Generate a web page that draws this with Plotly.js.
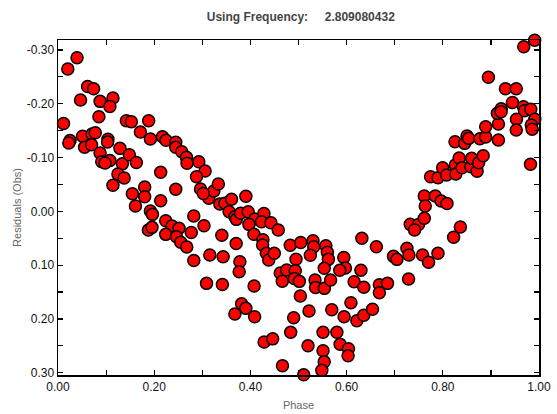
<!DOCTYPE html>
<html>
<head>
<meta charset="utf-8">
<script src="https://cdn.plot.ly/plotly-3.0.1.min.js"></script>
<style>html,body{margin:0;padding:0;background:#fff;}#chart{width:557px;height:414px;}</style>
</head>
<body>
<div id="chart"></div>
<script>
const phase = [
0.0115,0.0204,0.0396,0.0469,0.0615,0.0740,0.0875,0.1142,0.1079,0.0850,
0.0250,0.0225,0.0510,0.0552,0.0708,0.0775,0.0698,0.1038,0.1031,0.1288,
0.0875,0.0910,0.1079,0.0979,0.1338,0.1483,0.1629,0.1246,0.1375,0.1142,
0.1546,0.1802,0.1802,0.1610,0.1421,0.1525,0.1885,0.1713,0.1921,0.2135,
0.2135,0.2448,0.1921,0.1963,
0.2171,0.2246,0.2448,0.2448,0.2573,0.2671,0.2683,0.2927,0.3058,0.2879,
0.2963,0.3135,0.3240,0.3333,0.3021,0.3365,0.3469,0.3558,0.3608,0.3677,
0.3708,0.3796,0.3906,0.3954,0.4094,0.3969,0.4281,0.4233,0.4427,0.4579,
0.4073,0.4260,0.4254,
0.2240,0.2371,0.2517,0.2240,0.2463,0.2552,0.2677,0.2771,0.2823,0.3035,
0.2823,0.3156,0.3088,0.3406,0.3433,0.3417,0.1879,0.1954,0.3704,0.3781,
0.3767,0.4077,0.3817,0.3906,0.3677,0.4088,0.4285,0.4463,0.4667,0.4333,
0.4381,0.4496,
0.4829,0.5046,0.5302,0.5317,0.5246,0.5569,0.5600,0.5621,0.4948,0.4621,
0.4754,0.4933,0.4663,0.4910,0.5017,0.5535,0.5344,0.5354,0.5538,0.5667,
0.5942,0.5975,0.5858,0.6317,0.6619,0.6298,0.6156,0.6358,0.6681,0.6681,
0.6850,0.6975,0.7046,0.5038,0.4900,0.5219,0.5692,0.6090,0.5948,0.6213,
0.6358,0.6538,0.4838,0.5198,0.5510,0.5798,0.5865,0.6038,0.6031,0.5510,
0.5535,0.5485,0.5108,
0.7254,0.7296,0.7579,0.7704,0.7900,0.7288,0.7323,0.7496,0.7413,0.7615,
0.8225,0.8365,0.7615,0.7844,0.7965,0.8088,0.7635,0.7746,0.7900,0.7996,
0.8079,0.8260,0.8271,0.8340,0.8400,0.8583,0.8600,0.8713,0.8746,0.8840,
0.8254,0.8454,0.8504,0.8538,0.8771,0.8892,0.8892,0.9156,0.9156,0.9135,
0.9215,0.9213,0.8948,0.9302,0.9527,0.9448,0.9677,0.9698,0.9829,0.9913,
0.9531,0.9527,0.9840,0.9858,0.9823,0.9683,0.9910
];
const residual = [
-0.1633,-0.2646,-0.2856,-0.2070,-0.2321,-0.2280,-0.2045,-0.2107,-0.1949,-0.1759,
-0.1316,-0.1270,-0.1395,-0.1190,-0.1437,-0.1462,-0.1238,-0.1341,-0.1289,-0.1171,
-0.1084,-0.0922,-0.0945,-0.0898,-0.0883,-0.1052,-0.0907,-0.0694,-0.0619,-0.0485,
-0.0327,-0.0452,-0.0271,-0.0099,-0.1685,-0.1666,-0.1685,-0.1475,-0.1344,-0.0725,
-0.0197,-0.0409,-0.0006,0.0056,
-0.1387,-0.1320,-0.1283,-0.1190,-0.1108,-0.1004,-0.0893,-0.0922,-0.0749,-0.0643,
-0.0415,-0.0242,-0.0377,-0.0508,-0.0331,-0.0136,-0.0149,0.0007,-0.0223,0.0100,
0.0149,0.0037,-0.0279,0.0007,0.0143,0.0242,0.0041,0.0193,0.0212,0.0348,
0.0426,0.0528,0.0627,
0.0175,0.0273,0.0316,0.0428,0.0472,0.0576,0.0664,0.0394,0.0087,0.0268,
0.0915,0.0813,0.1339,0.0444,0.0844,0.1361,0.0348,0.0298,0.0599,0.0937,
0.1123,0.1389,0.1720,0.1804,0.1910,0.1960,0.2430,0.2371,0.2871,0.0781,
0.0906,0.0781,
0.0632,0.0580,0.0547,0.0658,0.0816,0.0642,0.0761,0.0893,0.0891,0.1147,
0.1091,0.1105,0.1300,0.1250,0.1302,0.1060,0.1277,0.1417,0.1432,0.1277,
0.0859,0.1054,0.1097,0.0502,0.0658,0.1097,0.1309,0.1413,0.1365,0.1514,
0.1339,0.0837,0.0893,0.1575,0.1978,0.1854,0.1830,0.1700,0.1960,0.2036,
0.1932,0.1822,0.2250,0.2501,0.2250,0.2250,0.2473,0.2555,0.2685,0.2592,
0.2797,0.2957,0.3040,
0.0688,0.0813,0.0813,0.0948,0.0781,0.1259,0.0242,0.0245,0.0348,0.0130,
0.0483,0.0292,-0.0284,-0.0284,-0.0192,-0.0145,-0.0099,-0.0643,-0.0625,-0.0811,
-0.0675,-0.0861,-0.0694,-0.0991,-0.0811,-0.0829,-0.0985,-0.0744,-0.0904,-0.1034,
-0.1294,-0.1264,-0.1400,-0.1357,-0.1350,-0.1382,-0.1573,-0.1623,-0.1326,-0.1822,
-0.1908,-0.1852,-0.2492,-0.2278,-0.2278,-0.2023,-0.1945,-0.1871,-0.1897,-0.1711,
-0.1711,-0.1512,-0.1605,-0.1527,-0.0876,-0.3061,-0.3180
];
const xTickVals = [0,0.1,0.2,0.3,0.4,0.5,0.6,0.7,0.8,0.9,1.0];
const xTickText = ['0.00','','0.20','','0.40','','0.60','','0.80','','1.00'];
const yTickVals = [-0.30,-0.25,-0.20,-0.15,-0.10,-0.05,0,0.05,0.10,0.15,0.20,0.25,0.30];
const yTickText = ['-0.30','','-0.20','','-0.10','','0.00','','0.10','','0.20','','0.30'];
const titleText = 'Using Frequency:\u00a0\u00a0\u00a0\u00a0 2.809080432';

const axisCommon = {
  showline: true, linecolor: '#000', linewidth: 1.5, mirror: 'ticks',
  ticks: 'inside', ticklen: 5, tickwidth: 1.2, tickcolor: '#000',
  showgrid: false, zeroline: false, tickmode: 'array',
  tickfont: {family: 'Liberation Sans, Arial, sans-serif', size: 12, color: '#111'}
};

Plotly.newPlot('chart', [{
  x: phase, y: residual, type: 'scatter', mode: 'markers', cliponaxis: false,
  marker: {size: 12, color: '#ff0000', line: {color: '#000', width: 1.5}}
}], {
  width: 557, height: 414,
  margin: {l: 58, r: 18, t: 40, b: 39, pad: 0},
  paper_bgcolor: '#fff', plot_bgcolor: '#fff',
  showlegend: false,
  title: {text: '<b>' + titleText + '</b>', x: 0.54, xanchor: 'center', y: 0.96, yanchor: 'middle',
          font: {family: 'Liberation Sans, Arial, sans-serif', size: 12, color: '#444'}},
  xaxis: Object.assign({}, axisCommon, {
    range: [0, 1], tickvals: xTickVals, ticktext: xTickText,
    title: {text: 'Phase', standoff: 8, font: {family: 'Liberation Sans, Arial, sans-serif', size: 11, color: '#666'}}
  }),
  yaxis: Object.assign({}, axisCommon, {
    range: [0.3043, -0.3186], tickvals: yTickVals, ticktext: yTickText,
    title: {text: 'Residuals (Obs)', standoff: 3, font: {family: 'Liberation Sans, Arial, sans-serif', size: 11, color: '#666'}}
  })
}, {staticPlot: true, displayModeBar: false});
</script>
</body>
</html>
